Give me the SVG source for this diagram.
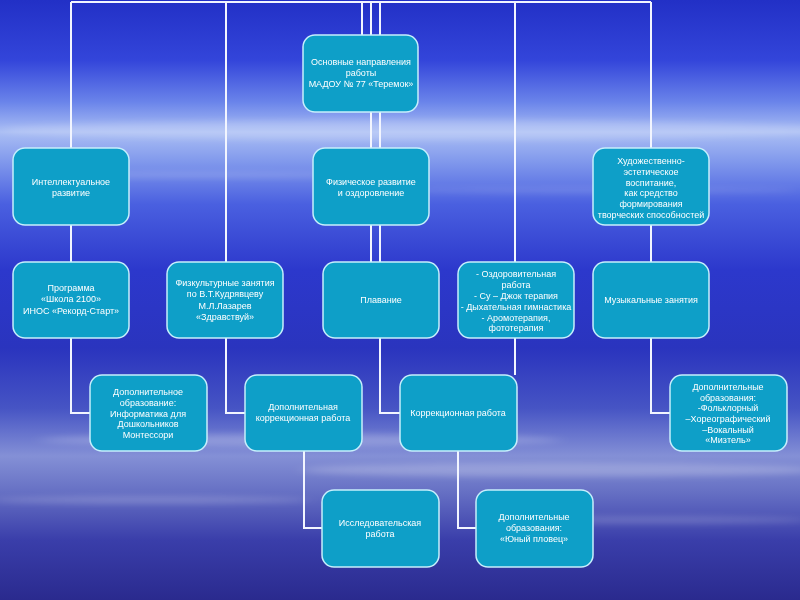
<svg xmlns="http://www.w3.org/2000/svg" width="800" height="600" viewBox="0 0 800 600">
<defs>
<linearGradient id="bg" x1="0" y1="0" x2="0" y2="1">
<stop offset="0" stop-color="#2230c6"/>
<stop offset="0.1" stop-color="#3345da"/>
<stop offset="0.17" stop-color="#6a84ea"/>
<stop offset="0.22" stop-color="#aabef4"/>
<stop offset="0.27" stop-color="#8098ec"/>
<stop offset="0.34" stop-color="#4a60e0"/>
<stop offset="0.45" stop-color="#2c38cc"/>
<stop offset="0.58" stop-color="#2a34be"/>
<stop offset="0.68" stop-color="#4654c4"/>
<stop offset="0.76" stop-color="#8490d6"/>
<stop offset="0.82" stop-color="#6670c4"/>
<stop offset="0.9" stop-color="#3a3eaa"/>
<stop offset="1" stop-color="#2a2a8e"/>
</linearGradient>
<filter id="blur" x="-20%" y="-200%" width="140%" height="500%"><feGaussianBlur stdDeviation="8 3"/></filter>
<style>
.box{fill:#0e9fc8;stroke:#c6effc;stroke-width:1.5}
.ln{fill:none;stroke:#f2f5ff;stroke-width:2}
text{font-family:"Liberation Sans",Arial,sans-serif;font-size:9px;fill:#ffffff;text-anchor:middle}
</style>
</defs>
<rect width="800" height="600" fill="url(#bg)"/>
<g filter="url(#blur)" fill="#ffffff">
<ellipse cx="420" cy="130" rx="420" ry="10" opacity="0.18"/>
<ellipse cx="200" cy="175" rx="180" ry="3" opacity="0.15"/>
<ellipse cx="600" cy="190" rx="200" ry="3" opacity="0.12"/>
<ellipse cx="300" cy="440" rx="260" ry="6" opacity="0.22"/>
<ellipse cx="560" cy="470" rx="260" ry="7" opacity="0.22"/>
<ellipse cx="150" cy="500" rx="160" ry="4" opacity="0.18"/>
<ellipse cx="650" cy="520" rx="160" ry="4" opacity="0.16"/>
</g>
<g id="connectors" class="ln">
<path d="M71 2H651"/>
<path d="M71 2V413H90"/>
<path d="M226 2V413H245"/>
<path d="M362 2V35"/>
<path d="M371 2V262"/>
<path d="M380 2V413H400"/>
<path d="M515 2V375"/>
<path d="M651 2V413H670"/>
<path d="M304 451V528H322"/>
<path d="M458 451V528H476"/>
</g>
<g id="root"><rect class="box" x="303" y="35" width="115" height="77" rx="12"/>
<text x="361" y="65">Основные направления</text><text x="361" y="76">работы</text><text x="361" y="87">МАДОУ № 77 «Теремок»</text></g>
<g id="intellect"><rect class="box" x="13" y="148" width="116" height="77" rx="12"/>
<text x="71" y="185">Интеллектуальное</text><text x="71" y="196">развитие</text></g>
<g id="physical"><rect class="box" x="313" y="148" width="116" height="77" rx="12"/>
<text x="371" y="185">Физическое развитие</text><text x="371" y="196">и оздоровление</text></g>
<g id="art"><rect class="box" x="593" y="148" width="116" height="77" rx="12"/>
<text x="651" y="164">Художественно-</text><text x="651" y="175">эстетическое</text><text x="651" y="186">воспитание,</text><text x="651" y="196">как средство</text><text x="651" y="207">формирования</text><text x="651" y="218">творческих способностей</text></g>
<g id="program"><rect class="box" x="13" y="262" width="116" height="76" rx="12"/>
<text x="71" y="291">Программа</text><text x="71" y="302">«Школа 2100»</text><text x="71" y="314">ИНОС «Рекорд-Старт»</text></g>
<g id="sport"><rect class="box" x="167" y="262" width="116" height="76" rx="12"/>
<text x="225" y="286">Физкультурные занятия</text><text x="225" y="297">по В.Т.Кудрявцеву</text><text x="225" y="309">М.Л.Лазарев</text><text x="225" y="320">«Здравствуй»</text></g>
<g id="swim"><rect class="box" x="323" y="262" width="116" height="76" rx="12"/>
<text x="381" y="303">Плавание</text></g>
<g id="health"><rect class="box" x="458" y="262" width="116" height="76" rx="12"/>
<text x="516" y="277">- Оздоровительная</text><text x="516" y="288">работа</text><text x="516" y="299">-  Су – Джок терапия</text><text x="516" y="310">- Дыхательная гимнастика</text><text x="516" y="321">- Аромотерапия,</text><text x="516" y="331">фототерапия</text></g>
<g id="music"><rect class="box" x="593" y="262" width="116" height="76" rx="12"/>
<text x="651" y="303">Музыкальные занятия</text></g>
<g id="extra-edu"><rect class="box" x="90" y="375" width="117" height="76" rx="12"/>
<text x="148" y="395">Дополнительное</text><text x="148" y="406">образование:</text><text x="148" y="417">Информатика для</text><text x="148" y="427">Дошкольников</text><text x="148" y="438">Монтессори</text></g>
<g id="extra-corr"><rect class="box" x="245" y="375" width="117" height="76" rx="12"/>
<text x="303" y="410">Дополнительная</text><text x="303" y="421">коррекционная работа</text></g>
<g id="corr"><rect class="box" x="400" y="375" width="117" height="76" rx="12"/>
<text x="458" y="416">Коррекционная работа</text></g>
<g id="art-extra"><rect class="box" x="670" y="375" width="117" height="76" rx="12"/>
<text x="728" y="390">Дополнительные</text><text x="728" y="401">образования:</text><text x="728" y="411">-Фольклорный</text><text x="728" y="422">–Хореографический</text><text x="728" y="433">–Вокальный</text><text x="728" y="443">«Мизтель»</text></g>
<g id="research"><rect class="box" x="322" y="490" width="117" height="77" rx="12"/>
<text x="380" y="526">Исследовательская</text><text x="380" y="537">работа</text></g>
<g id="swimmer"><rect class="box" x="476" y="490" width="117" height="77" rx="12"/>
<text x="534" y="520">Дополнительные</text><text x="534" y="531">образования:</text><text x="534" y="542">«Юный пловец»</text></g>
</svg>
